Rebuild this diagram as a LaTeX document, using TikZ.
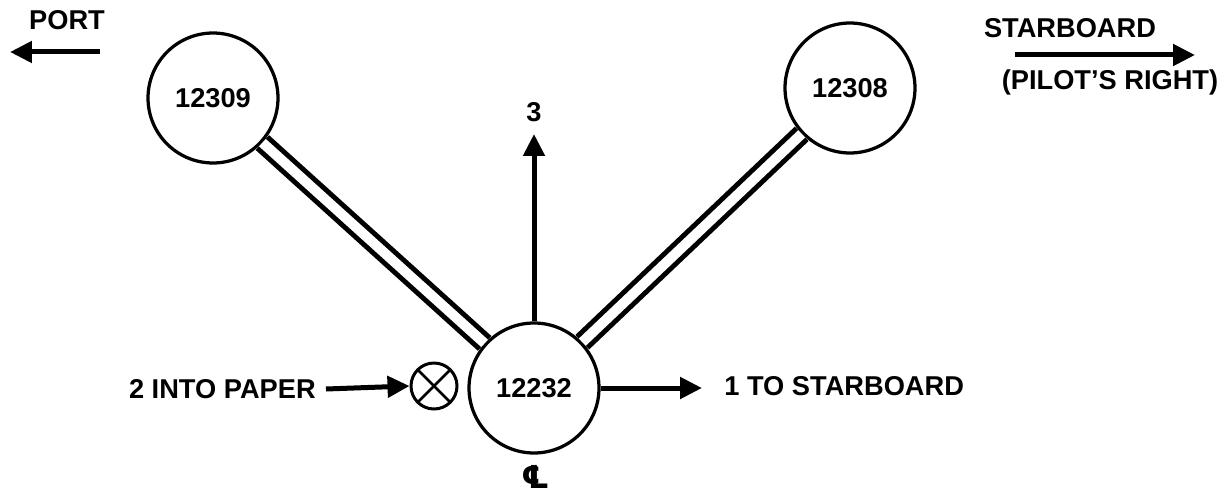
\documentclass[tikz,border=0pt]{standalone}
\usepackage{fontspec}
\setmainfont{Liberation Sans}
\newfontfamily\symfont{DejaVu Sans}
\usepackage{tikz}
\usetikzlibrary{arrows.meta,positioning}

\begin{document}
\begin{tikzpicture}[x=0.02cm,y=-0.02cm,
  lbl/.style={font=\fontsize{15.5}{18}\selectfont\bfseries,inner sep=0pt},
  gage/.style={draw,circle,line width=0.065cm,minimum size=2.6cm,inner sep=0pt,font=\fontsize{15.5}{18}\selectfont\bfseries},
  strut/.style={double,line width=0.1cm,double distance=0.2cm},
  axis/.style={line width=0.1cm,-{Triangle[length=0.44cm,width=0.42cm]}},
  >={Triangle[length=0.44cm,width=0.42cm]}]
\useasboundingbox (0,0) rectangle (1226,500);
% gages
\node[gage] (g309) at (213,98) {12309};
\node[gage] (g308) at (850,88) {12308};
\node[gage] (g232) at (534,388) {12232};
\draw[strut] (g309) -- (g232);
\draw[strut] (g308) -- (g232);
% axes
\coordinate (tip3) at (534,134);
\draw[axis] (g232.north) -- (tip3);
\node[lbl] (ax3) at (534,112) {3};
\coordinate (tip1) at (702,388);
\draw[axis] (g232.east) -- (tip1);
\node[lbl,anchor=west] (ax1) at (724,386) {1 TO STARBOARD};
\node[draw,circle,line width=0.06cm,minimum size=0.92cm,inner sep=0pt,
  path picture={\draw[line width=0.05cm] (path picture bounding box.north west) -- (path picture bounding box.south east)
    (path picture bounding box.north east) -- (path picture bounding box.south west);}] (into) at (434,386) {};
\node[lbl,anchor=east] (ax2) at (316,389) {2 INTO PAPER};
\draw[axis] ([xshift=0.2cm]ax2.east) -- (into.west);
\node[lbl] (cl) at (536,477) {\symfont\fontsize{18}{20}\selectfont ℄};
% directions
\node[lbl] (port) at (67,20) {PORT};
\coordinate (portA) at (100,52);
\coordinate (portB) at (10,52);
\draw[axis] (portA) -- (portB);
\node[lbl] (stbd) at (1070,28) {STARBOARD};
\coordinate (stbdA) at (1015,55);
\coordinate (stbdB) at (1195,55);
\draw[axis] (stbdA) -- (stbdB);
\node[lbl] (pilot) at (1110,82) {(PILOT'S RIGHT)};
\end{tikzpicture}
\end{document}
